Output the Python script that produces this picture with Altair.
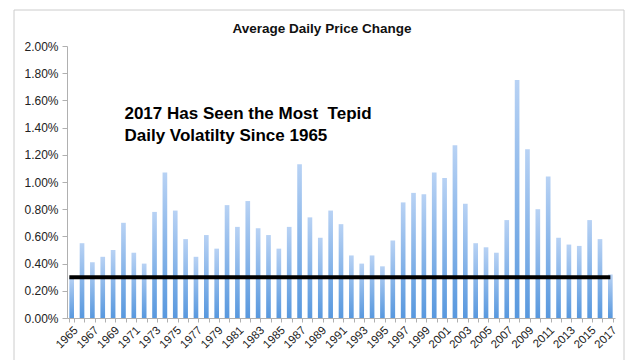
import altair as alt
import pandas as pd

years = list(range(1965, 2018))
avg_change_pct = [
    0.30, 0.55, 0.41, 0.45, 0.50, 0.70, 0.48, 0.40, 0.78, 1.07,
    0.79, 0.58, 0.45, 0.61, 0.51, 0.83, 0.67, 0.86, 0.66, 0.61,
    0.51, 0.67, 1.13, 0.74, 0.59, 0.79, 0.69, 0.46, 0.40, 0.46,
    0.38, 0.57, 0.85, 0.92, 0.91, 1.07, 1.03, 1.27, 0.84, 0.55,
    0.52, 0.48, 0.72, 1.75, 1.24, 0.80, 1.04, 0.59, 0.54, 0.53,
    0.72, 0.58, 0.32,
]
level_2017 = 0.30
y_ticks_pct = [0.0, 0.2, 0.4, 0.6, 0.8, 1.0, 1.2, 1.4, 1.6, 1.8, 2.0]

df = pd.DataFrame({"year": years, "value": [v / 100 for v in avg_change_pct]})
one = pd.DataFrame({"a": [0]})

FONT = "Liberation Sans"

xscale = alt.Scale(paddingInner=0.55, paddingOuter=0.225)
yscale = alt.Scale(domain=[0, 0.02], nice=False)

grad = alt.Gradient(
    gradient="linear",
    stops=[alt.GradientStop(color="#b8d2f4", offset=0),
           alt.GradientStop(color="#5898de", offset=1)],
    x1=0, x2=0, y1=0, y2=1,
)

xaxis = alt.Axis(labelAngle=-45, labelFontSize=11.5, labelFont=FONT,
                 labelColor="#222222", domainColor="#b0b0b0",
                 tickColor="#b0b0b0", tickSize=4, tickBand="extent",
                 labelPadding=2, labelOverlap=False,
                 labelExpr="(toNumber(datum.value) - 1965) % 2 == 0 ? datum.label : ''")
yaxis = alt.Axis(values=[v / 100 for v in y_ticks_pct], format=".2%",
                 grid=False, labelFontSize=12, labelFont=FONT,
                 labelColor="#222222", domainColor="#b0b0b0",
                 tickColor="#b0b0b0", tickSize=5, labelPadding=4,
                 labelOverlap=False)

bars = alt.Chart(df).mark_bar(color=grad).encode(
    x=alt.X("year:O", scale=xscale, title=None, axis=xaxis),
    y=alt.Y("value:Q", scale=yscale, title=None, axis=yaxis),
)

rule = alt.Chart(one).mark_rule(color="black", strokeWidth=4).encode(
    x=alt.X(datum=1965, type="ordinal", bandPosition=0, title=None, axis=xaxis),
    x2=alt.X2(datum=2017, bandPosition=0.5),
    y=alt.Y(datum=level_2017 / 100, type="quantitative", title=None, axis=yaxis),
)

note = alt.Chart(one).mark_text(
    text=["2017 Has Seen the Most\u00a0 Tepid", "Daily Volatilty Since 1965"],
    align="left", baseline="alphabetic", fontSize=17, fontWeight="bold",
    font=FONT, color="black", lineHeight=22, dx=1,
).encode(
    x=alt.X(datum=1970, type="ordinal", title=None, axis=xaxis),
    y=alt.Y(datum=0.01463, type="quantitative", title=None, axis=yaxis),
)

title = alt.Chart(one).mark_text(
    text="Average Daily Price Change", align="center", baseline="alphabetic",
    fontSize=13.5, fontWeight="bold", font=FONT, color="#111111",
).encode(x=alt.value(255), y=alt.value(-13))

frame = alt.Chart(one).mark_rect(fill=None, stroke="#cccccc", strokeWidth=1).encode(
    x=alt.value(-53), x2=alt.value(557), y=alt.value(-36), y2=alt.value(400),
)

chart = alt.layer(frame, bars, rule, note, title).properties(
    width=548, height=272,
    autosize=alt.AutoSizeParams(type="none"),
    padding={"left": 67, "top": 46, "right": 17, "bottom": 42},
).configure_view(stroke=None)

chart.save("out.html", embed_options={"renderer": "svg", "actions": False})
